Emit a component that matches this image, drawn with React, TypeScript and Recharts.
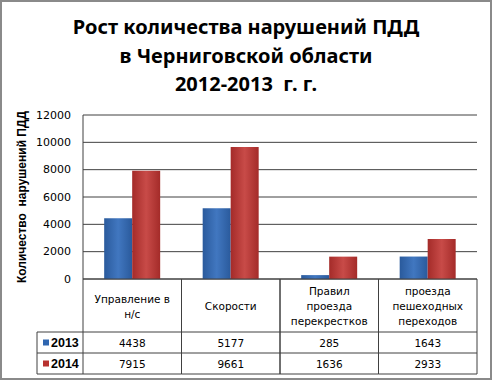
import React from "react";
import { BarChart, Bar, XAxis, YAxis, CartesianGrid } from "recharts";

const categories = [
  ["Управление в", "н/с"],
  ["Скорости"],
  ["Правил", "проезда", "перекрестков"],
  ["проезда", "пешеходных", "переходов"],
];
const years = ["2013", "2014"];
const values2013 = [4438, 5177, 285, 1643];
const values2014 = [7915, 9661, 1636, 2933];
const yTicks = [0, 2000, 4000, 6000, 8000, 10000, 12000];
const titleLines = ["Рост количества нарушений ПДД", "в Черниговской области", "2012-2013  г. г."];
const yLabel = "Количество\u00A0 нарушений ПДД";

const data = categories.map((c, i) => ({
  name: c.join(" "),
  idx: i,
  v2013: values2013[i],
  v2014: values2014[i],
}));

const W = 492;
const H = 382;
const PLOT_LEFT = 83;
const PLOT_RIGHT = 477;
const PLOT_TOP = 115;
const PLOT_BOTTOM = 279;
const BAND = (PLOT_RIGHT - PLOT_LEFT) / categories.length;
const ROW1 = 332;
const ROW2 = 353;
const ROW3 = 374;
const LEG_LEFT = 37;
const LINE = "#404040";
const BLUE = "#2F66B0";
const RED = "#B8312F";

const tableFont = { fontFamily: "DejaVu Sans", fontSize: 10.5, fill: "#000" };

const TableTick = (props: any) => {
  const { x, payload, index } = props;
  const i = typeof index === "number" ? index : payload.index;
  const lines = categories[i] || [];
  const cx = x;
  const left = cx - BAND / 2;
  const right = cx + BAND / 2;
  const mid = (PLOT_BOTTOM + ROW1) / 2 + 0.5;
  const lh = 15;
  const start = mid - ((lines.length - 1) * lh) / 2;
  return (
    <g>
      <line x1={left} y1={PLOT_BOTTOM} x2={left} y2={ROW3} stroke={LINE} />
      <line x1={right} y1={PLOT_BOTTOM} x2={right} y2={ROW3} stroke={LINE} />
      <line x1={left} y1={ROW1} x2={right} y2={ROW1} stroke={LINE} />
      <line x1={left} y1={ROW2} x2={right} y2={ROW2} stroke={LINE} />
      <line x1={left} y1={ROW3} x2={right} y2={ROW3} stroke={LINE} />
      {lines.map((t, k) => (
        <text key={k} x={cx} y={start + k * lh} textAnchor="middle" dominantBaseline="central" {...tableFont}>
          {t}
        </text>
      ))}
      <text x={cx} y={(ROW1 + ROW2) / 2} textAnchor="middle" dominantBaseline="central" {...tableFont}>
        {values2013[i]}
      </text>
      <text x={cx} y={(ROW2 + ROW3) / 2} textAnchor="middle" dominantBaseline="central" {...tableFont}>
        {values2014[i]}
      </text>
      {i === 0 && (
        <g>
          <line x1={LEG_LEFT} y1={ROW1} x2={left} y2={ROW1} stroke={LINE} />
          <line x1={LEG_LEFT} y1={ROW2} x2={left} y2={ROW2} stroke={LINE} />
          <line x1={LEG_LEFT} y1={ROW3} x2={left} y2={ROW3} stroke={LINE} />
          <line x1={LEG_LEFT} y1={ROW1} x2={LEG_LEFT} y2={ROW3} stroke={LINE} />
          <rect x={43} y={(ROW1 + ROW2) / 2 - 3} width={6} height={6} fill={BLUE} />
          <rect x={43} y={(ROW2 + ROW3) / 2 - 3} width={6} height={6} fill={RED} />
          <text x={51} y={(ROW1 + ROW2) / 2} dominantBaseline="central" fontFamily="Liberation Sans" fontWeight="bold" fontSize={12.5} fill="#000">
            {years[0]}
          </text>
          <text x={51} y={(ROW2 + ROW3) / 2} dominantBaseline="central" fontFamily="Liberation Sans" fontWeight="bold" fontSize={12.5} fill="#000">
            {years[1]}
          </text>
        </g>
      )}
    </g>
  );
};

const YTick = (props: any) => {
  const { x, y, payload } = props;
  return (
    <text x={x} y={y} textAnchor="end" dominantBaseline="central" fontFamily="DejaVu Sans" fontSize={11} fill="#000">
      {payload.value}
    </text>
  );
};

export default function App() {
  return (
    <div style={{ position: "absolute", left: 0, top: 0, width: W, height: H, background: "#fff" }}>
      <div
        style={{
          position: "absolute",
          left: 0,
          top: 0,
          width: W - 4,
          height: H - 6,
          border: "2px solid #8a8a8a",
        }}
      />
      <div
        style={{
          position: "absolute",
          left: 0,
          top: 13,
          width: W,
          textAlign: "center",
          fontFamily: "Noto Sans",
          fontWeight: "bold",
          fontSize: 20,
          lineHeight: "28.5px",
          color: "#000",
        }}
      >
        {titleLines.map((t, i) => (
          <div key={i} style={{ whiteSpace: "pre" }}>{t}</div>
        ))}
      </div>
      <div style={{ position: "absolute", left: 0, top: 0 }}>
        <BarChart
          width={W}
          height={H}
          data={data}
          margin={{ top: PLOT_TOP, right: W - PLOT_RIGHT, bottom: 0, left: 0 }}
          barCategoryGap="21.5%"
          barGap={0}
        >
          <defs>
            <linearGradient id="gBlue" x1="0" y1="0" x2="1" y2="0">
              <stop offset="0%" stopColor="#2A5A9C" />
              <stop offset="50%" stopColor="#4177C0" />
              <stop offset="100%" stopColor="#2A5A9C" />
            </linearGradient>
            <linearGradient id="gRed" x1="0" y1="0" x2="1" y2="0">
              <stop offset="0%" stopColor="#A42B29" />
              <stop offset="50%" stopColor="#C84B48" />
              <stop offset="100%" stopColor="#A42B29" />
            </linearGradient>
          </defs>
          <CartesianGrid horizontal vertical={false} stroke={LINE} strokeDasharray="" />
          <XAxis
            dataKey="name"
            height={H - PLOT_BOTTOM}
            axisLine={{ stroke: LINE }}
            tickLine={false}
            interval={0}
            tick={<TableTick />}
          />
          <YAxis
            width={PLOT_LEFT}
            domain={[0, 12000]}
            ticks={yTicks}
            interval={0}
            axisLine={{ stroke: LINE }}
            tickLine={false}
            tickSize={0}
            tickMargin={12}
            tick={<YTick />}
            label={{
              value: yLabel,
              angle: -90,
              position: "insideLeft",
              offset: 22,
              style: { fontFamily: "Liberation Sans", fontWeight: "bold", fontSize: 12, fill: "#000", textAnchor: "middle" },
            }}
          />
          <Bar dataKey="v2013" fill="url(#gBlue)" isAnimationActive={false} />
          <Bar dataKey="v2014" fill="url(#gRed)" isAnimationActive={false} />
        </BarChart>
      </div>
    </div>
  );
}
